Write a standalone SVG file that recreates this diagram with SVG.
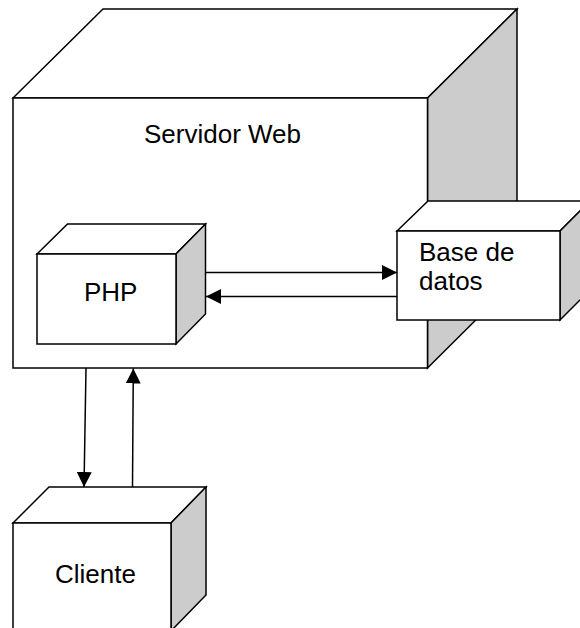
<svg xmlns="http://www.w3.org/2000/svg" width="580" height="628" viewBox="0 0 580 628">
<defs>
<style>
.face{fill:#ffffff;stroke:#000000;stroke-width:1.5;stroke-linejoin:miter}
.side{fill:#cccccc;stroke:#000000;stroke-width:1.5;stroke-linejoin:miter}
.lbl{font-family:"Liberation Sans",Arial,sans-serif;font-size:26px;fill:#000000}
.conn{fill:none;stroke:#000000;stroke-width:1.5}
</style>
<marker id="ah" viewBox="0 0 15 15" refX="15" refY="7.5" markerWidth="15" markerHeight="15" markerUnits="userSpaceOnUse" orient="auto">
<path d="M0,0 L15,7.5 L0,15 Z" fill="#000000"/>
</marker>
</defs>
<rect width="580" height="628" fill="#ffffff"/>
<g id="servidor-web">
<polygon class="face" points="13,98 103,9 517,9 427.5,98"/>
<polygon class="side" points="427.5,98 517,9 517,279 427.5,368"/>
<rect class="face" x="13" y="98" width="414.5" height="270"/>
<text class="lbl" x="144" y="143">Servidor Web</text>
</g>
<g id="php">
<polygon class="face" points="37,254 67.5,224 205.5,224 176,254"/>
<polygon class="side" points="176,254 205.5,224 205.5,314 176,344"/>
<rect class="face" x="37" y="254" width="139" height="90"/>
<text class="lbl" x="84" y="300.5">PHP</text>
</g>
<g id="base-de-datos">
<polygon class="face" points="397,231 428,201 590,201 560,231"/>
<polygon class="side" points="560,231 590,201 590,290 560,320"/>
<rect class="face" x="397" y="231" width="163" height="89"/>
<text class="lbl" x="419" y="260.5">Base de</text>
<text class="lbl" x="419" y="290">datos</text>
</g>
<g id="cliente">
<polygon class="face" points="13,523 49,487 206,487 171,523"/>
<polygon class="side" points="171,523 206,487 206,595 171,631"/>
<rect class="face" x="13" y="523" width="158" height="108"/>
<text class="lbl" x="55" y="582.5">Cliente</text>
</g>
<g id="connectors">
<line class="conn" x1="205.5" y1="272.5" x2="397" y2="272.5" marker-end="url(#ah)"/>
<line class="conn" x1="397" y1="296.5" x2="206" y2="296.5" marker-end="url(#ah)"/>
<line class="conn" x1="86" y1="368" x2="84" y2="487" marker-end="url(#ah)"/>
<line class="conn" x1="132.5" y1="487" x2="133.3" y2="368.5" marker-end="url(#ah)"/>
</g>
</svg>
